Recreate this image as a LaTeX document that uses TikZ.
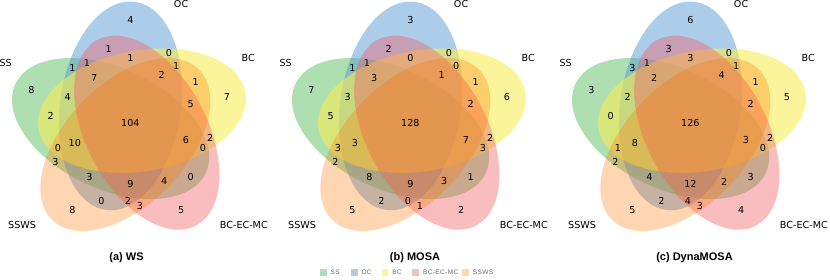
\documentclass[tikz,border=0pt]{standalone}
\usepackage{fontspec}
\setmainfont{DejaVu Sans}
\newfontfamily\captionfont{Liberation Sans}
\newfontfamily\legendfont[LetterSpace=6]{Liberation Sans}
\usepackage{tikz}
\usetikzlibrary{
  positioning
}
\definecolor{ssgreen}{RGB}{92,192,98}
\definecolor{ocblue}{RGB}{90,155,212}
\definecolor{bcyellow}{RGB}{246,236,86}
\definecolor{bcecred}{RGB}{241,90,96}
\definecolor{sswsorange}{RGB}{255,117,0}
\tikzset{
  ssset/.style={fill=ssgreen,fill opacity=0.5},
  ocset/.style={fill=ocblue,fill opacity=0.5},
  bcset/.style={fill=bcyellow,fill opacity=0.6},
  bcecset/.style={fill=bcecred,fill opacity=0.4},
  sswsset/.style={fill=sswsorange,fill opacity=0.3},
  regionnum/.style={font=\fontsize{9.6}{11.5}\selectfont,inner sep=0pt},
  setname/.style={font=\fontsize{9.6}{11.5}\selectfont,inner sep=0pt},
  paneltitle/.style={font=\captionfont\bfseries\fontsize{11}{13}\selectfont,inner sep=0pt},
  legendkey/.style={minimum width=6.7pt,minimum height=6.7pt,inner sep=0pt},
  legendtext/.style={font=\legendfont\fontsize{6.5}{8}\selectfont,text=black!60,inner sep=0pt}
}
% region centres, same order as the count lists below
\def\regionx{{0.51,0.42,0.67,0.51,0.27,0.33,0.70,0.36,0.64,0.78,0.10,0.25,0.91,0.76,0.18,0.51,0.28,0.74,0.84,0.21,0.81,0.20,0.34,0.76,0.51,0.65,0.39,0.50,0.55,0.27,0.72}}
\def\regiony{{0.90,0.78,0.76,0.74,0.70,0.72,0.71,0.66,0.67,0.64,0.61,0.58,0.58,0.55,0.50,0.47,0.39,0.40,0.41,0.37,0.37,0.31,0.25,0.25,0.22,0.23,0.15,0.15,0.13,0.11,0.11}}
\newcommand{\vennsets}{
  \fill[ssset,rotate around={155:(0.428,0.449)}] (0.428,0.449) ellipse [x radius=0.435,y radius=0.25];
  \fill[ocset,rotate around={82:(0.469,0.543)}] (0.469,0.543) ellipse [x radius=0.435,y radius=0.25];
  \fill[bcset,rotate around={10:(0.558,0.523)}] (0.558,0.523) ellipse [x radius=0.435,y radius=0.25];
  \fill[bcecset,rotate around={118:(0.578,0.432)}] (0.578,0.432) ellipse [x radius=0.435,y radius=0.25];
  \fill[sswsset,rotate around={46:(0.489,0.383)}] (0.489,0.383) ellipse [x radius=0.435,y radius=0.25];
}

\begin{document}
\begin{tikzpicture}[x=1pt,y=1pt]
  \useasboundingbox (0,0) rectangle (830,280);

  % WS panel
  \begin{scope}[shift={(7.2,43)},x=241.5pt,y=241.5pt]
    \vennsets
    \node[setname,anchor=east] (ws-ss) at (0.02,0.72) {SS};
    \node[setname,anchor=base] (ws-oc) at (0.72,0.95) {OC};
    \node[setname,anchor=west] (ws-bc) at (0.97,0.74) {BC};
    \node[setname,anchor=west] (ws-bcec) at (0.88,0.05) {BC-EC-MC};
    \node[setname,anchor=east] (ws-ssws) at (0.12,0.05) {SSWS};
    \foreach \v [count=\i from 0] in {4,1,0,1,1,1,1,7,2,1,8,4,7,5,2,104,10,6,2,0,0,3,3,0,9,4,0,2,3,8,5} {
      \node[regionnum] (ws-r\i) at ({\regionx[\i]},{\regiony[\i]}) {\v};
    }
  \end{scope}

  % MOSA panel
  \begin{scope}[shift={(287.2,43)},x=241.5pt,y=241.5pt]
    \vennsets
    \node[setname,anchor=east] (mosa-ss) at (0.02,0.72) {SS};
    \node[setname,anchor=base] (mosa-oc) at (0.72,0.95) {OC};
    \node[setname,anchor=west] (mosa-bc) at (0.97,0.74) {BC};
    \node[setname,anchor=west] (mosa-bcec) at (0.88,0.05) {BC-EC-MC};
    \node[setname,anchor=east] (mosa-ssws) at (0.12,0.05) {SSWS};
    \foreach \v [count=\i from 0] in {3,2,0,0,1,1,0,3,1,1,7,3,6,2,5,128,3,7,2,3,3,2,8,1,9,3,2,0,1,5,2} {
      \node[regionnum] (mosa-r\i) at ({\regionx[\i]},{\regiony[\i]}) {\v};
    }
  \end{scope}

  % DynaMOSA panel
  \begin{scope}[shift={(567.2,43)},x=241.5pt,y=241.5pt]
    \vennsets
    \node[setname,anchor=east] (dyna-ss) at (0.02,0.72) {SS};
    \node[setname,anchor=base] (dyna-oc) at (0.72,0.95) {OC};
    \node[setname,anchor=west] (dyna-bc) at (0.97,0.74) {BC};
    \node[setname,anchor=west] (dyna-bcec) at (0.88,0.05) {BC-EC-MC};
    \node[setname,anchor=east] (dyna-ssws) at (0.12,0.05) {SSWS};
    \foreach \v [count=\i from 0] in {6,3,0,3,3,1,1,2,4,1,3,2,5,2,0,126,8,3,2,1,0,2,4,3,12,2,2,4,3,5,4} {
      \node[regionnum] (dyna-r\i) at ({\regionx[\i]},{\regiony[\i]}) {\v};
    }
  \end{scope}

  % Captions
  \node[paneltitle] (ws-title) at (126.5,22.5) {(a) WS};
  \node[paneltitle] (mosa-title) at (415,22.5) {(b) MOSA};
  \node[paneltitle] (dyna-title) at (694.5,22.5) {(c) DynaMOSA};

  % Legend
  \node[legendkey,fill=ssgreen!50] (key-ss) at (323.3,7.3) {};
  \node[legendtext,right=3.5pt of key-ss] (lab-ss) {SS};
  \node[legendkey,fill=ocblue!50] (key-oc) at (354.3,7.3) {};
  \node[legendtext,right=3.5pt of key-oc] (lab-oc) {OC};
  \node[legendkey,fill=bcyellow!60] (key-bc) at (385,7.3) {};
  \node[legendtext,right=3.5pt of key-bc] (lab-bc) {BC};
  \node[legendkey,fill=bcecred!40] (key-bcec) at (415.8,7.3) {};
  \node[legendtext,right=3.5pt of key-bcec] (lab-bcec) {BC-EC-MC};
  \node[legendkey,fill=sswsorange!30] (key-ssws) at (465.7,7.3) {};
  \node[legendtext,right=3.5pt of key-ssws] (lab-ssws) {SSWS};
\end{tikzpicture}
\end{document}
